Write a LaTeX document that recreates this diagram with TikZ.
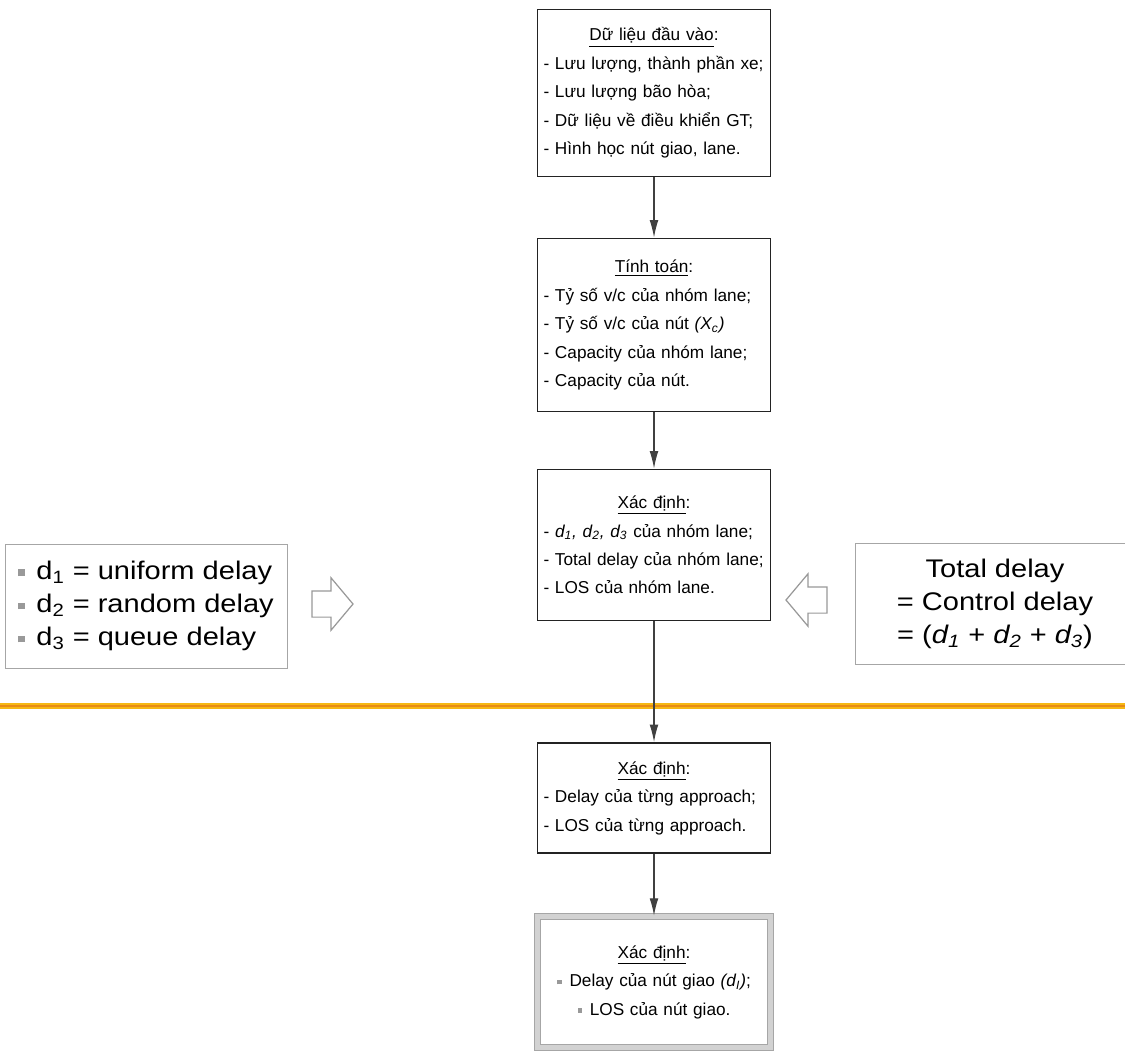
\documentclass[tikz,border=0pt]{standalone}
\usepackage{fontspec}
\setmainfont{Liberation Sans}
\newfontfamily\widesans[FakeStretch=1.14]{Liberation Sans}
\usetikzlibrary{arrows.meta,shapes.arrows}

\definecolor{frame}{RGB}{35,35,35}
\definecolor{gold}{RGB}{246,184,20}
\definecolor{goldline}{RGB}{232,140,20}

\newcommand{\boxhead}[1]{\makebox[\linewidth]{\underline{#1}:}\\}
\newcommand{\sqbullet}{\textcolor{gray!80}{\rule[0.25ex]{0.5ex}{0.5ex}}\hspace{0.45em}}

\tikzset{
  flowbox/.style={draw=frame, line width=0.9pt, fill=white, text width=4.42cm,
    inner sep=0.12cm, align=left, font=\fontsize{9.8}{16.2}\selectfont},
  finalbox/.style={flowbox, draw=gray!70, double=gray!35, double distance=2.5pt,
    line width=0.8pt, align=center},
  sidebox/.style={draw=gray!70, line width=0.5pt, fill=white, align=left,
    inner sep=0.12cm, font=\widesans\fontsize{14.5}{18.8}\selectfont},
  hollow/.style={single arrow, draw=gray!80, line width=0.7pt, fill=white,
    inner sep=0pt, text height=0.5cm, text depth=0cm, minimum height=0.82cm,
    single arrow head extend=0.26cm, single arrow tip angle=100},
  flowarrow/.style={draw=black!75, line width=0.8pt, -{Latex[length=10pt,width=5pt]}},
}

\begin{document}
\begin{tikzpicture}[x=0.02cm, y=-0.02cm]
  \clip (0,0) rectangle (1125,1056);
  \fill[white] (0,0) rectangle (1125,1056);

  % yellow separator
  \draw[gold, line width=3.5pt] (0,706) -- (1125,706);
  \draw[goldline, line width=1pt] (0,706) -- (1125,706);

  % main column
  \node[flowbox, minimum height=3.34cm] (input) at (654,93) {\boxhead{Dữ liệu đầu vào}
    - Lưu lượng, thành phần xe;\\
    - Lưu lượng bão hòa;\\
    - Dữ liệu về điều khiển GT;\\
    - Hình học nút giao, lane.};
  \node[flowbox, minimum height=3.46cm] (calc) at (654,325) {\boxhead{Tính toán}
    - Tỷ số v/c của nhóm lane;\\
    - Tỷ số v/c của nút \textit{(X\textsubscript{c})}\\
    - Capacity của nhóm lane;\\
    - Capacity của nút.};
  \node[flowbox, minimum height=3.02cm] (lanegrp) at (654,545) {\boxhead{Xác định}
    - \textit{d\textsubscript{1}, d\textsubscript{2}, d\textsubscript{3}} của nhóm lane;\\
    - Total delay của nhóm lane;\\
    - LOS của nhóm lane.};
  \node[flowbox, minimum height=2.2cm] (approach) at (654,798) {\boxhead{Xác định}
    - Delay của từng approach;\\
    - LOS của từng approach.};
  \node[finalbox, minimum height=2.62cm] (junction) at (654,982) {\underline{Xác định}:\\
    \sqbullet Delay của nút giao \textit{(d\textsubscript{I})};\\
    \sqbullet LOS của nút giao.};

  % side notes
  \node[sidebox, minimum width=5.64cm, minimum height=2.48cm] (delays) at (146,606) {%
    \sqbullet d\textsubscript{1} = uniform delay\\
    \sqbullet d\textsubscript{2} = random delay\\
    \sqbullet d\textsubscript{3} = queue delay};
  \node[sidebox, align=center, minimum width=5.6cm, minimum height=2.42cm] (total) at (995,604) {%
    Total delay\\
    = Control delay\\
    = (\textit{d\textsubscript{1}} + \textit{d\textsubscript{2}} + \textit{d\textsubscript{3}})};

  \node[hollow] (hollowL) at (327,604) {};
  \node[hollow, shape border rotate=180] (hollowR) at (812,600) {};

  % connectors
  \draw[flowarrow] (input) -- (calc);
  \draw[flowarrow] (calc) -- (lanegrp);
  \draw[flowarrow] (lanegrp) -- (approach);
  \draw[flowarrow] (approach) -- (junction);
\end{tikzpicture}
\end{document}
